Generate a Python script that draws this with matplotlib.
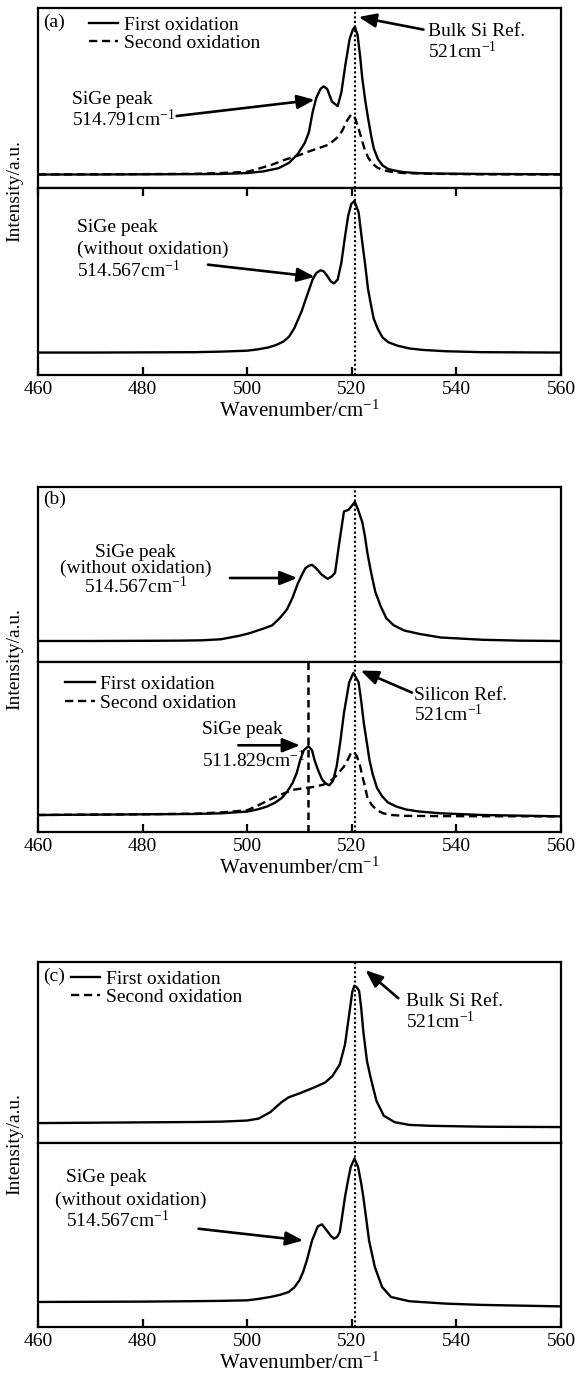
import matplotlib.pyplot as plt

plt.rcParams['font.family'] = ['Liberation Serif', 'DejaVu Serif']
plt.rcParams['mathtext.fontset'] = 'custom'
plt.rcParams['mathtext.rm'] = 'Liberation Serif'
plt.rcParams['mathtext.it'] = 'Liberation Serif:italic'
plt.rcParams['font.size'] = 14

# ---- data (intensity as fraction of sub-plot height) ----
# (a) upper: first / second oxidation
a_up_x = [460, 470, 480, 490, 495, 500, 503, 506, 508, 509.7, 511, 511.8, 512.5, 513.2, 514, 514.6,
          515.3, 516.2, 517.3, 518, 518.8, 519.6, 520.2, 520.6, 521.1, 521.6, 522, 522.6, 523.1, 523.7,
          524.2, 525, 525.9, 527, 528.5, 530, 533, 537, 545, 560]
a_up_y = [0.075, 0.075, 0.076, 0.077, 0.078, 0.083, 0.092, 0.11, 0.14, 0.19, 0.25, 0.31, 0.42, 0.50, 0.55, 0.565,
          0.55, 0.48, 0.455, 0.53, 0.69, 0.83, 0.88, 0.895, 0.85, 0.73, 0.61, 0.48, 0.39, 0.29,
          0.22, 0.16, 0.125, 0.105, 0.095, 0.088, 0.082, 0.08, 0.078, 0.076]
a_up2_x = [460, 480, 490, 495, 500, 502.5, 504.8, 507, 509.7, 512, 514, 515.5, 516.4, 517.4, 518.2, 519,
           519.9, 520.6, 521.3, 521.9, 522.4, 523.1, 523.8, 524.8, 525.9, 527.5, 530, 535, 545, 560]
a_up2_y = [0.075, 0.077, 0.079, 0.083, 0.09, 0.11, 0.13, 0.155, 0.18, 0.205, 0.225, 0.24, 0.26, 0.285, 0.32, 0.37,
           0.41, 0.39, 0.33, 0.27, 0.22, 0.17, 0.14, 0.115, 0.10, 0.09, 0.083, 0.079, 0.076, 0.075]
# (a) lower: without oxidation
a_lo_x = [460, 470, 480, 490, 495, 500, 502, 504, 505.5, 507, 508, 509, 510.4, 511.5, 512.5, 513.2, 514,
          514.6, 515.3, 516, 516.6, 517.3, 518, 518.7, 519.3, 519.9, 520.5, 521.3, 522, 522.6, 523.1,
          523.7, 524.2, 525, 525.9, 527, 528.7, 531, 533.6, 538, 545, 560]
a_lo_y = [0.12, 0.12, 0.121, 0.122, 0.125, 0.13, 0.137, 0.147, 0.16, 0.18, 0.205, 0.25, 0.34, 0.43, 0.51, 0.545, 0.56,
          0.555, 0.53, 0.50, 0.49, 0.51, 0.60, 0.74, 0.85, 0.915, 0.93, 0.87, 0.71, 0.58, 0.46,
          0.37, 0.30, 0.245, 0.20, 0.175, 0.157, 0.142, 0.134, 0.127, 0.122, 0.12]

# (b) upper: without oxidation
b_up_x = [460, 470, 480, 487, 491.4, 495, 498.5, 500.5, 502, 503.5, 504.8, 506.2, 507.6, 508.7, 509.7, 510.5,
          511.1, 511.8, 512.4, 513.2, 514.2, 515.4, 516.2, 516.8, 517.6, 518.5, 519.4, 520.6, 521.2, 522,
          522.5, 523, 523.7, 524.5, 525.5, 526.6, 528, 530, 533, 537, 545, 552, 560]
b_up_y = [0.12, 0.12, 0.121, 0.122, 0.124, 0.13, 0.15, 0.165, 0.18, 0.195, 0.21, 0.25, 0.30, 0.37, 0.45, 0.50,
          0.535, 0.55, 0.555, 0.535, 0.50, 0.475, 0.49, 0.51, 0.68, 0.86, 0.87, 0.915, 0.87, 0.80,
          0.72, 0.62, 0.51, 0.40, 0.32, 0.25, 0.21, 0.18, 0.16, 0.14, 0.127, 0.122, 0.12]
# (b) lower: first / second oxidation
b_lo_x = [460, 470, 480, 490, 495, 500, 502, 503.8, 505.3, 506.6, 507.7, 508.7, 509.5, 510.1, 510.8, 511.7,
          512.4, 512.9, 513.6, 514.3, 515, 515.7, 516.4, 517.1, 517.8, 518.5, 519.5, 520.3, 521.3, 521.8,
          522.3, 522.9, 523.4, 524, 524.8, 525.8, 526.9, 528.5, 530.4, 533, 537, 545, 560]
b_lo_y = [0.10, 0.102, 0.104, 0.106, 0.11, 0.12, 0.133, 0.15, 0.172, 0.20, 0.24, 0.29, 0.35, 0.42, 0.48, 0.505,
          0.48, 0.42, 0.36, 0.31, 0.285, 0.275, 0.30, 0.385, 0.53, 0.70, 0.88, 0.936, 0.88, 0.77,
          0.64, 0.52, 0.42, 0.34, 0.26, 0.21, 0.174, 0.15, 0.132, 0.12, 0.11, 0.10, 0.092]
b_lo2_x = [460, 480, 490, 495, 500, 502, 503.8, 506, 508.7, 511, 512.9, 514.5, 515.7, 517, 518.5, 519.3,
           519.9, 520.4, 520.9, 521.5, 522, 522.5, 523, 523.8, 524.8, 526, 527.6, 530, 540, 560]
b_lo2_y = [0.10, 0.104, 0.108, 0.115, 0.128, 0.155, 0.183, 0.215, 0.248, 0.258, 0.266, 0.278, 0.294, 0.33, 0.385, 0.43,
           0.468, 0.47, 0.45, 0.40, 0.33, 0.27, 0.20, 0.16, 0.128, 0.11, 0.10, 0.095, 0.093, 0.092]

# (c) upper: first oxidation
c_up_x = [460, 470, 480, 490, 495, 500, 502.2, 504.4, 506.5, 507.9, 510, 512.8, 514.9, 516.3, 517.7, 518.7,
          519.4, 520.1, 520.5, 520.9, 521.4, 521.8, 522.2, 522.9, 523.6, 524.7, 526.1, 528.2, 531, 535, 545, 560]
c_up_y = [0.11, 0.112, 0.114, 0.116, 0.118, 0.124, 0.135, 0.17, 0.224, 0.252, 0.274, 0.307, 0.334, 0.37, 0.434, 0.544,
          0.69, 0.836, 0.869, 0.862, 0.84, 0.745, 0.617, 0.453, 0.361, 0.234, 0.151, 0.115, 0.10, 0.095, 0.09, 0.088]
# (c) lower: without oxidation
c_lo_x = [460, 470, 480, 488.9, 495, 500, 502, 504.4, 506.3, 507.9, 509, 510, 510.7, 511.4, 512.4, 513.5,
          514.3, 515.2, 516, 516.6, 517.2, 517.7, 518.2, 518.7, 519.3, 519.8, 520.5, 521.2, 521.8, 522.2,
          522.8, 523.3, 524.4, 525.8, 527.5, 531, 538, 545, 560]
c_lo_y = [0.136, 0.137, 0.138, 0.14, 0.142, 0.145, 0.152, 0.163, 0.175, 0.19, 0.215, 0.254, 0.30, 0.362, 0.47, 0.547,
          0.558, 0.525, 0.495, 0.48, 0.49, 0.516, 0.61, 0.707, 0.80, 0.87, 0.915, 0.87, 0.78, 0.707,
          0.58, 0.47, 0.326, 0.217, 0.163, 0.14, 0.127, 0.12, 0.112]

si_ref = 520.6      # dotted reference line
sige_b = 511.7      # dashed marker in (b)
xticks = [460, 480, 500, 520, 540, 560]

W, H = 576, 1382
fig = plt.figure(figsize=(W / 100, H / 100), dpi=100)

# pixel layout: (top, divider, bottom) per panel
panels = [(8, 188, 375), (487, 662, 832), (962, 1143, 1327)]
left, right = 38, 561

LW = 1.7
DASH = (0, (3.5, 2))


def make_axes(top, mid, bot):
    up = fig.add_axes([left / W, 1 - mid / H, (right - left) / W, (mid - top) / H])
    lo = fig.add_axes([left / W, 1 - bot / H, (right - left) / W, (bot - mid) / H], sharex=up)
    for ax in (up, lo):
        ax.set_xlim(460, 560)
        ax.set_ylim(0, 1)
        ax.set_yticks([])
        for s in ax.spines.values():
            s.set_linewidth(1.6)
        ax.axvline(si_ref, color='k', ls=(0, (1, 1.2)), lw=1.5)
    up.tick_params(axis='x', bottom=False, labelbottom=False)
    lo.set_xticks(xticks)
    lo.tick_params(axis='x', direction='in', length=6, width=1.6, labelsize=14, pad=4)
    lo.set_xlabel('Wavenumber/cm$^{-1}$', fontsize=15, labelpad=2)
    fig.text(15 / W, 1 - (top + bot) / 2 / H, 'Intensity/a.u.', rotation=90,
             ha='center', va='center', fontsize=14)
    return up, lo


arrow = dict(arrowstyle='-|>,head_length=0.75,head_width=0.3', color='k', lw=1.9,
             shrinkA=0, shrinkB=0)

# ---------------- (a) ----------------
up, lo = make_axes(*panels[0])
up.plot(a_up_x, a_up_y, 'k-', lw=LW, label='First oxidation')
up.plot(a_up2_x, a_up2_y, color='k', ls=DASH, lw=LW, label='Second oxidation')
up.text(461, 0.92, '(a)', va='center', fontsize=14)
up.legend(loc='upper left', bbox_to_anchor=(0.075, 1.02), frameon=False, handlelength=1.5,
          handletextpad=0.3, labelspacing=0.05, fontsize=14, borderaxespad=0.2)
up.annotate('', xy=(521.3, 0.95), xytext=(533.7, 0.88), arrowprops=arrow)
up.text(534.5, 0.87, 'Bulk Si Ref.', va='center', fontsize=14)
up.text(534.5, 0.76, '521cm$^{-1}$', va='center', fontsize=14)
up.text(466.5, 0.49, 'SiGe peak', va='center', fontsize=14)
up.text(466.5, 0.38, '514.791cm$^{-1}$', va='center', fontsize=14)
up.annotate('', xy=(512.9, 0.49), xytext=(486.5, 0.40), arrowprops=arrow)

lo.plot(a_lo_x, a_lo_y, 'k-', lw=LW)
lo.tick_params(axis='x', top=True)
lo.text(467.5, 0.79, 'SiGe peak', va='center', fontsize=14)
lo.text(467.5, 0.67, '(without oxidation)', va='center', fontsize=14)
lo.text(467.5, 0.56, '514.567cm$^{-1}$', va='center', fontsize=14)
lo.annotate('', xy=(512.9, 0.525), xytext=(492.5, 0.59), arrowprops=arrow)

# ---------------- (b) ----------------
up, lo = make_axes(*panels[1])
up.plot(b_up_x, b_up_y, 'k-', lw=LW)
up.text(461, 0.93, '(b)', va='center', fontsize=14)
up.text(478.7, 0.625, 'SiGe peak', ha='center', va='center', fontsize=14)
up.text(478.7, 0.537, '(without oxidation)', ha='center', va='center', fontsize=14)
up.text(478.7, 0.43, '514.567cm$^{-1}$', ha='center', va='center', fontsize=14)
up.annotate('', xy=(509.6, 0.48), xytext=(496.7, 0.48), arrowprops=arrow)

lo.plot(b_lo_x, b_lo_y, 'k-', lw=LW, label='First oxidation')
lo.plot(b_lo2_x, b_lo2_y, color='k', ls=DASH, lw=LW, label='Second oxidation')
lo.axvline(sige_b, color='k', ls=(0, (3, 2)), lw=1.8)
lo.legend(loc='upper left', bbox_to_anchor=(0.03, 0.99), frameon=False, handlelength=1.5,
          handletextpad=0.3, labelspacing=0.05, fontsize=14, borderaxespad=0.2)
lo.annotate('', xy=(521.7, 0.95), xytext=(531.5, 0.82), arrowprops=arrow)
lo.text(531.8, 0.80, 'Silicon Ref.', va='center', fontsize=14)
lo.text(531.8, 0.69, '521cm$^{-1}$', va='center', fontsize=14)
lo.text(491.3, 0.605, 'SiGe peak', va='center', fontsize=14)
lo.text(491.3, 0.42, '511.829cm$^{-1}$', va='center', fontsize=14)
lo.annotate('', xy=(510.1, 0.51), xytext=(498.3, 0.51), arrowprops=arrow)

# ---------------- (c) ----------------
up, lo = make_axes(*panels[2])
up.plot(c_up_x, c_up_y, 'k-', lw=LW, label='First oxidation')
up.plot([], [], color='k', ls=DASH, lw=LW, label='Second oxidation')
up.text(461, 0.918, '(c)', va='center', fontsize=14)
up.legend(loc='upper left', bbox_to_anchor=(0.04, 1.02), frameon=False, handlelength=1.5,
          handletextpad=0.3, labelspacing=0.05, fontsize=14, borderaxespad=0.2)
up.annotate('', xy=(522.6, 0.955), xytext=(528.9, 0.80), arrowprops=arrow)
up.text(530.3, 0.78, 'Bulk Si Ref.', va='center', fontsize=14)
up.text(530.3, 0.67, '521cm$^{-1}$', va='center', fontsize=14)

lo.plot(c_lo_x, c_lo_y, 'k-', lw=LW)
lo.text(465.4, 0.815, 'SiGe peak', va='center', fontsize=14)
lo.text(463.3, 0.69, '(without oxidation)', va='center', fontsize=14)
lo.text(465.4, 0.58, '514.567cm$^{-1}$', va='center', fontsize=14)
lo.annotate('', xy=(510.7, 0.47), xytext=(490.7, 0.534), arrowprops=arrow)

fig.savefig('out.png', dpi=100)
